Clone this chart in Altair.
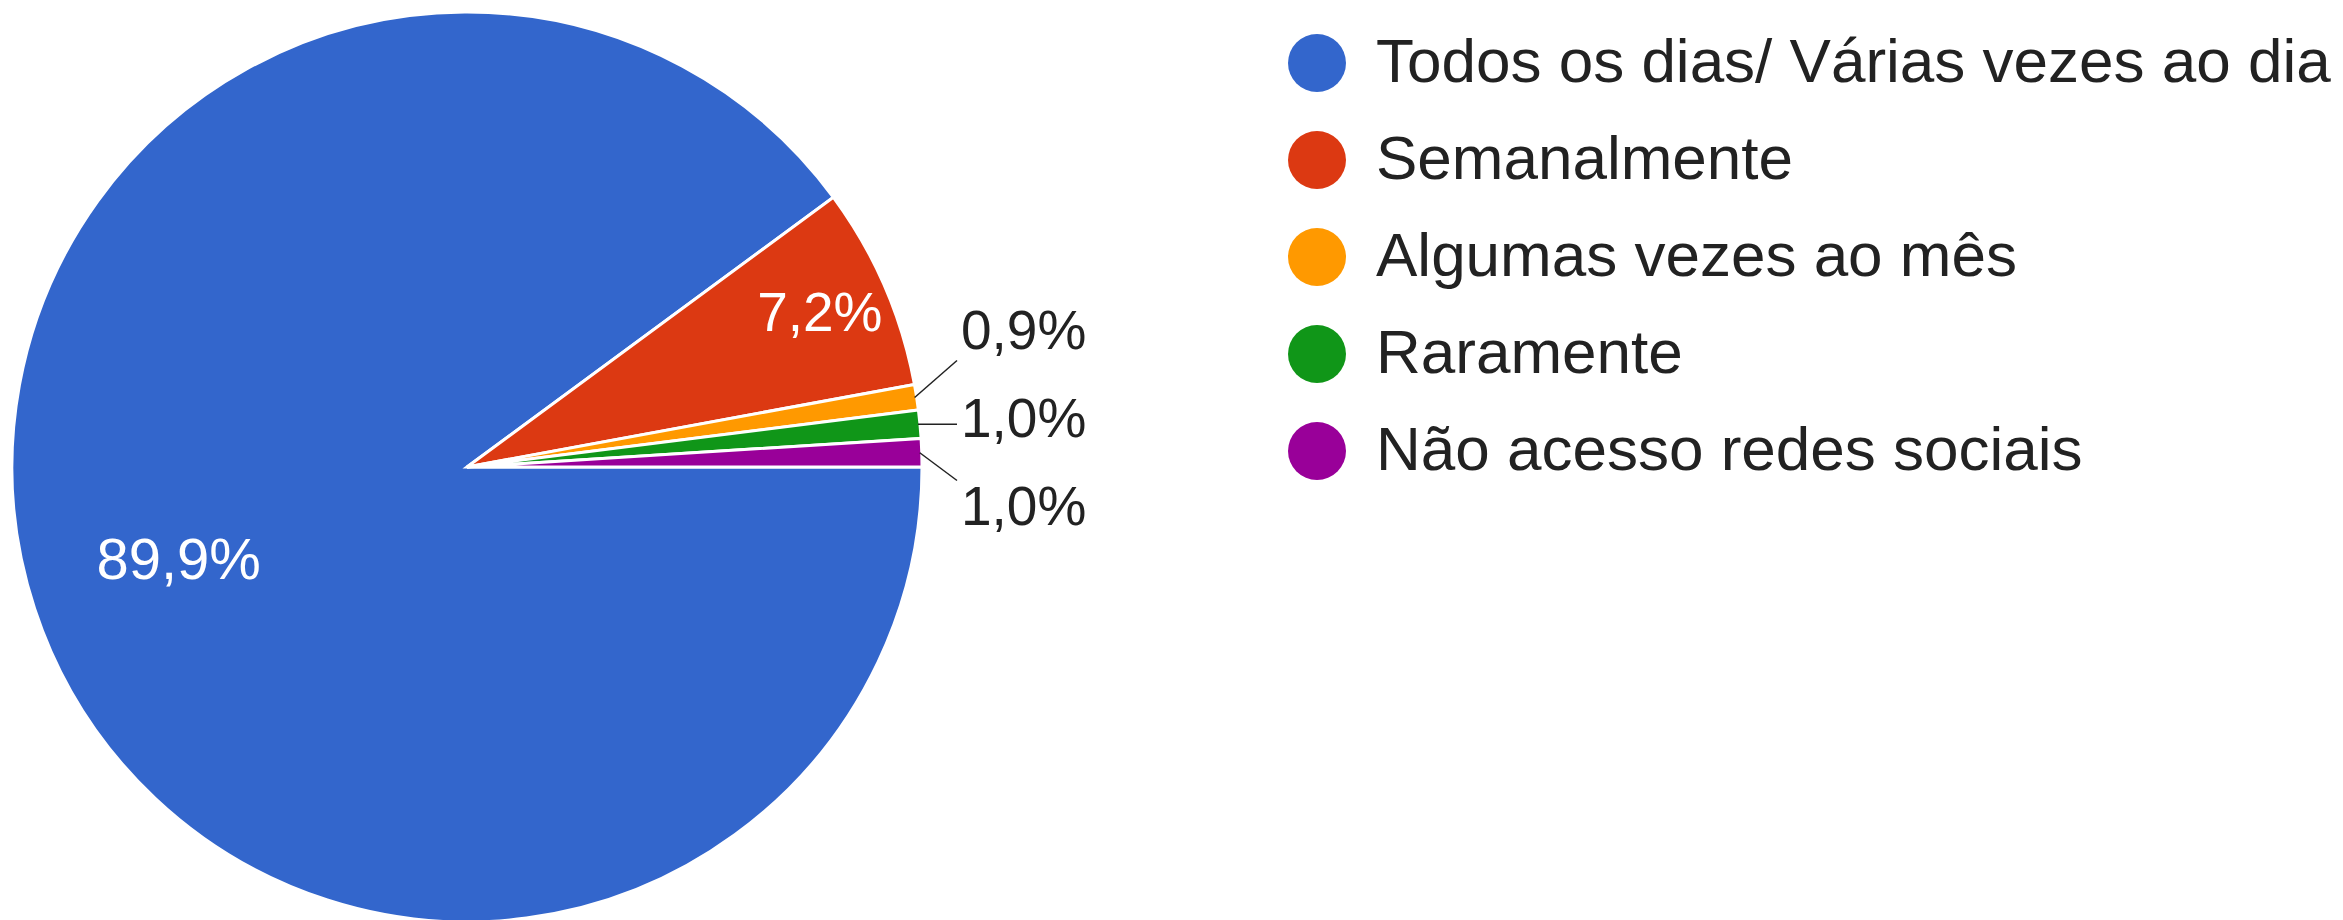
import math
import altair as alt
import pandas as pd

# ---- data ----
categories = [
    "Todos os dias/ Várias vezes ao dia",
    "Semanalmente",
    "Algumas vezes ao mês",
    "Raramente",
    "Não acesso redes sociais",
]
values = [89.9, 7.2, 0.9, 1.0, 1.0]
pct_labels = ["89,9%", "7,2%", "0,9%", "1,0%", "1,0%"]
colors = ["#3366cc", "#dc3912", "#ff9900", "#109618", "#990099"]

# ---- layout ----
W, H = 2327, 912
CX, CY, R = 459, 459, 455
START = math.pi / 2          # pie starts at 3 o'clock, clockwise
OUT_GAP = 88                 # vertical spacing of outside labels
OUT_LABEL_X = CX + 494       # left edge of outside labels

total = sum(values)
rows, inside, outside = [], [], []
cum = 0.0
for i, (c, v, lab) in enumerate(zip(categories, values, pct_labels)):
    a0 = START + 2 * math.pi * cum / total
    cum += v
    a1 = START + 2 * math.pi * cum / total
    mid = (a0 + a1) / 2
    frac = v / total
    rows.append({"category": c, "value": v, "idx": i})
    if frac >= 0.05:
        rr = R * (0.667 if frac > 0.5 else 0.845)
        inside.append({"x": CX + rr * math.sin(mid), "y": CY - rr * math.cos(mid),
                       "label": lab, "big": frac > 0.5})
    else:
        outside.append({"label": lab, "mid": mid,
                        "sx": CX + (R - 2) * math.sin(mid),
                        "sy": CY - (R - 2) * math.cos(mid),
                        "ny": CY - 1.1 * R * math.cos(mid)})

# spread the outside labels symmetrically around their mean natural position
n = len(outside)
mean_y = sum(o["ny"] for o in outside) / n
for k, o in enumerate(outside):
    o["ly"] = mean_y + (k - (n - 1) / 2) * OUT_GAP
    o["lx"] = OUT_LABEL_X
    d = max(-28.0, min(28.0, o["sy"] - o["ly"]))
    o["ex"] = OUT_LABEL_X - 4
    o["ey"] = o["ly"] + d

df = pd.DataFrame(rows)
df_in = pd.DataFrame(inside)
df_out = pd.DataFrame(outside)

xs = alt.Scale(domain=[0, W], nice=False, zero=False)
ys = alt.Scale(domain=[0, H], nice=False, zero=False, reverse=True)

pie = alt.Chart(df).mark_arc(
    outerRadius=R, stroke="white", strokeWidth=3
).encode(
    theta=alt.Theta("value:Q", stack=True,
                    scale=alt.Scale(range=[START, START + 2 * math.pi])),
    color=alt.Color(
        "category:N",
        sort=categories,
        scale=alt.Scale(domain=categories, range=colors),
        legend=alt.Legend(
            title=None, orient="none", legendX=1278, legendY=24,
            symbolType="circle", symbolSize=3364, symbolStrokeWidth=0,
            labelFontSize=62, labelFont="Liberation Sans", labelColor="#222222",
            labelOffset=28, rowPadding=35, padding=0, labelLimit=3000,
        ),
    ),
    order=alt.Order("idx:Q"),
    x=alt.value(CX),
    y=alt.value(CY),
)

txt_in = alt.Chart(df_in).mark_text(
    font="Liberation Sans", color="white", align="center", baseline="middle"
).encode(
    x=alt.X("x:Q", scale=xs, axis=None),
    y=alt.Y("y:Q", scale=ys, axis=None),
    text="label:N",
    size=alt.condition("datum.big", alt.value(58), alt.value(55)),
)

lines = alt.Chart(df_out).mark_rule(color="#222222", strokeWidth=1.5).encode(
    x=alt.X("sx:Q", scale=xs, axis=None),
    y=alt.Y("sy:Q", scale=ys, axis=None),
    x2="ex:Q",
    y2="ey:Q",
)

txt_out = alt.Chart(df_out).mark_text(
    font="Liberation Sans", fontSize=55, color="#222222",
    align="left", baseline="middle"
).encode(
    x=alt.X("lx:Q", scale=xs, axis=None),
    y=alt.Y("ly:Q", scale=ys, axis=None),
    text="label:N",
)

chart = alt.layer(pie, lines, txt_in, txt_out).properties(
    width=W, height=H, padding=0,
    autosize=alt.AutoSizeParams(type="none"),
).configure_view(strokeWidth=0)

chart.save("out.html", embed_options={"renderer": "svg", "actions": False})
